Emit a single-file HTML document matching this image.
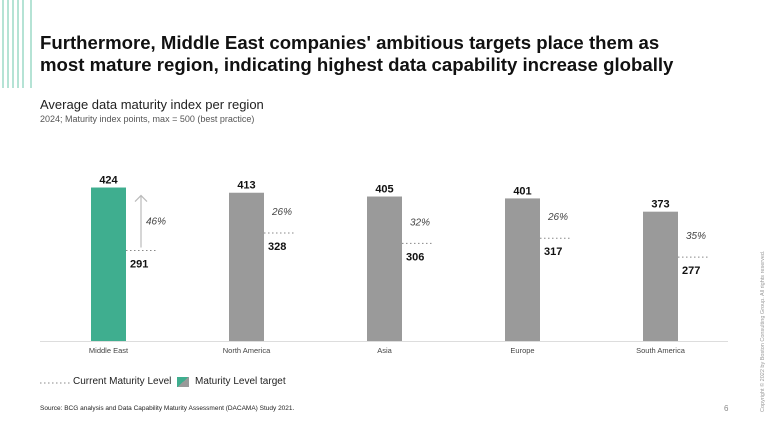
<!DOCTYPE html>
<html><head><meta charset="utf-8"><style>
body{margin:0;width:768px;height:432px;background:#fff;overflow:hidden;font-family:"Liberation Sans",sans-serif;position:relative}
.abs{position:absolute}
</style></head><body>
<svg class="abs" style="left:0;top:0" width="40" height="90">
<g stroke="#b5e3d5" stroke-width="2"><line x1="3" y1="0" x2="3" y2="88"/><line x1="8" y1="0" x2="8" y2="88"/><line x1="13" y1="0" x2="13" y2="88"/><line x1="18" y1="0" x2="18" y2="88"/><line x1="23" y1="0" x2="23" y2="88"/><line x1="31" y1="0" x2="31" y2="88"/></g></svg>
<div class="abs" style="left:40px;top:32px;font-size:18.6px;font-weight:bold;color:#111;line-height:22px;white-space:nowrap">Furthermore, Middle East companies' ambitious targets place them as<br>most mature region, indicating highest data capability increase globally</div>
<div class="abs" style="left:40px;top:97px;font-size:13px;color:#222">Average data maturity index per region</div>
<div class="abs" style="left:40px;top:114px;font-size:9px;color:#555">2024; Maturity index points, max = 500 (best practice)</div>
<svg id="chart" class="abs" style="left:0;top:0" width="768" height="432"></svg>
<svg class="abs" style="left:40px;top:378px" width="40" height="10"><line x1="0" y1="5" x2="30" y2="5" stroke="#888" stroke-dasharray="1.5,2.5"/></svg>
<div class="abs" style="left:73px;top:376px;font-size:10px;color:#222">Current Maturity Level</div>
<div class="abs" style="left:177px;top:377px;width:12px;height:10px;background:linear-gradient(135deg,#3fae8f 50%,#9a9a9a 50%)"></div>
<div class="abs" style="left:195px;top:376px;font-size:10px;color:#222">Maturity Level target</div>
<div class="abs" style="left:40px;top:405px;font-size:6.5px;color:#222">Source: BCG analysis and Data Capability Maturity Assessment (DACAMA) Study 2021.</div>
<div class="abs" style="left:724px;top:404px;font-size:8px;color:#888">6</div>
<div class="abs" style="left:760px;top:412px;font-size:5.5px;color:#999;transform:rotate(-90deg);transform-origin:0 0;white-space:nowrap">Copyright © 2022 by Boston Consulting Group. All rights reserved.</div>
<script>
const categories=["Middle East","North America","Asia","Europe","South America"];
const targets=[424,413,405,401,373];
const current=[291,328,306,317,277];
const growth=["46%","26%","32%","26%","35%"];
const NS="http://www.w3.org/2000/svg";
const svg=document.getElementById('chart');
const yMin=100,base=341,k=0.4737;
const y=v=>base-(v-yMin)*k;
const x=i=>91+i*138;
const bw=35;
function mk(t,a){const e=document.createElementNS(NS,t);for(const n in a)e.setAttribute(n,a[n]);svg.appendChild(e);return e;}
const ax=mk('line',{x1:40,x2:728,y1:base+0.5,y2:base+0.5,stroke:'#ddd'});


categories.forEach((c,i)=>{
 const r=mk('rect',{x:x(i),y:y(targets[i]),width:bw,height:base-y(targets[i]),fill:i==0?'#3fae8f':'#9a9a9a'});
 
 
 const tv=mk('text',{x:x(i)+bw/2,y:y(targets[i])-4,'text-anchor':'middle','font-size':11,'font-weight':'bold',fill:'#111','font-family':'Liberation Sans'});
 tv.textContent=targets[i];
 
 
 const cy=y(current[i]);
 const dl=mk('line',{x1:x(i)+bw,x2:x(i)+bw+30,y1:cy,y2:cy,stroke:'#888','stroke-dasharray':'1.5,2.5'});
 
 
 const cv=mk('text',{x:x(i)+bw+4,y:cy+17,'font-size':11,'font-weight':'bold',fill:'#111','font-family':'Liberation Sans'});
 cv.textContent=current[i];
 
 
 const gp=mk('text',{x:x(i)+bw+(i==0?20:8),y:i==0?cy-26:cy-18,'font-size':10,'font-style':'italic',fill:'#444','font-family':'Liberation Sans'});
 gp.textContent=growth[i];
 
 
 const cl=mk('text',{x:x(i)+bw/2,y:base+12,'text-anchor':'middle','font-size':7.5,fill:'#444','font-family':'Liberation Sans'});
 cl.textContent=c;
 
 
 if(i==0){
  const ar=mk('path',{d:`M${x(i)+bw+15} ${cy-3} V${y(targets[i])+8} M${x(i)+bw+9} ${y(targets[i])+14} L${x(i)+bw+15} ${y(targets[i])+8} L${x(i)+bw+21} ${y(targets[i])+14}`,stroke:'#bbb',fill:'none','stroke-width':1.2});
  
  
 }
});
</script>
</body></html>
